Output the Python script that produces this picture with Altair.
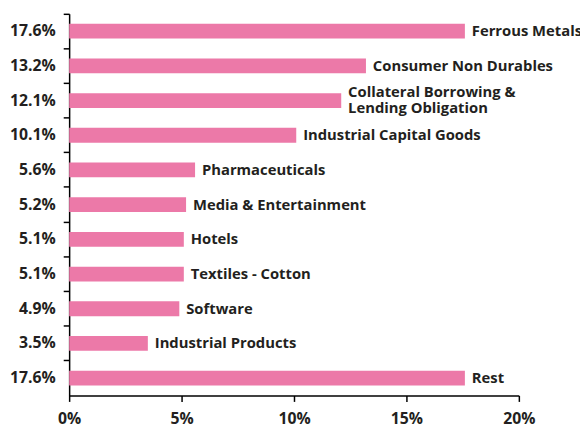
import altair as alt
import pandas as pd

categories = [
    "Ferrous Metals",
    "Consumer Non Durables",
    "Collateral Borrowing &\nLending Obligation",
    "Industrial Capital Goods",
    "Pharmaceuticals",
    "Media & Entertainment",
    "Hotels",
    "Textiles - Cotton",
    "Software",
    "Industrial Products",
    "Rest",
]
values = [17.6, 13.2, 12.1, 10.1, 5.6, 5.2, 5.1, 5.1, 4.9, 3.5, 17.6]
x_ticks = [0, 5, 10, 15, 20]

df = pd.DataFrame({"rank": list(range(len(categories))), "category": categories, "value": values})
pct_labels = [f"{v:.1f}%" for v in values]
label_expr = "[" + ",".join(f"'{s}'" for s in pct_labels) + "][datum.value]"

W, H = 456, 387
FONT = "Open Sans"
BAR = "#EC79A8"
TXT = "#231F20"

y_enc = alt.Y(
    "rank:O",
    scale=alt.Scale(paddingInner=0, paddingOuter=0),
    axis=alt.Axis(
        title=None,
        bandPosition=0,
        labelExpr=label_expr,
        labelFont=FONT,
        labelFontSize=16,
        labelFontWeight="bold",
        labelColor=TXT,
        labelPadding=8,
        tickSize=6,
        tickColor="black",
        domainColor="black",
        tickWidth=1.5,
        domainWidth=1.5,
    ),
)
x_enc = alt.X(
    "value:Q",
    scale=alt.Scale(domain=[0, 20], nice=False),
    axis=alt.Axis(
        title=None,
        values=x_ticks,
        labelExpr="datum.value + '%'",
        labelFont=FONT,
        labelFontSize=16,
        labelFontWeight="bold",
        labelColor=TXT,
        labelPadding=9,
        tickSize=6,
        tickColor="black",
        domainColor="black",
        tickWidth=1.5,
        domainWidth=1.5,
        grid=False,
        labelFlush=False,
    ),
)

bars = alt.Chart(df).mark_bar(color=BAR, size=15).encode(x=x_enc, y=y_enc)

text_style = dict(align="left", baseline="middle", dx=7, font=FONT, fontSize=15,
                  fontWeight="bold", color=TXT, lineBreak="\n", lineHeight=17)
text_single = alt.Chart(df).transform_filter(
    "indexof(datum.category, '\\n') < 0"
).mark_text(**text_style).encode(x="value:Q", y="rank:O", text="category:N")
text_multi = alt.Chart(df).transform_filter(
    "indexof(datum.category, '\\n') >= 0"
).mark_text(dy=-9, **text_style).encode(x="value:Q", y="rank:O", text="category:N")

chart = alt.layer(bars, text_single, text_multi).properties(
    width=W, height=H,
    padding={"left": 62, "top": 3, "right": 62, "bottom": 26},
    autosize=alt.AutoSizeParams(type="none"),
).configure_view(stroke=None)

chart.save("out.html", embed_options={"renderer": "svg", "actions": False})
